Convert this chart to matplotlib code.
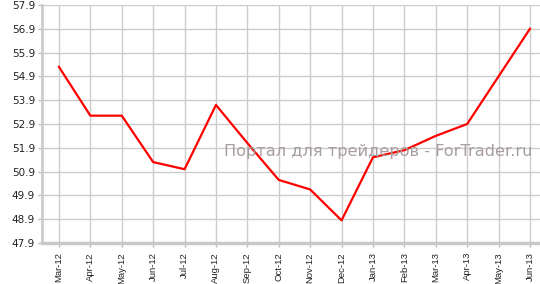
import matplotlib
matplotlib.use("Agg")
import matplotlib.pyplot as plt


MONTHS = [
    "Mar-12", "Apr-12", "May-12", "Jun-12", "Jul-12", "Aug-12", "Sep-12", "Oct-12",
    "Nov-12", "Dec-12", "Jan-13", "Feb-13", "Mar-13", "Apr-13", "May-13", "Jun-13",
]
VALUES = [
    55.3, 53.25, 53.25, 51.3, 51.0, 53.7, 52.1, 50.55,
    50.15, 48.85, 51.5, 51.8, 52.4, 52.9, 54.9, 56.9,
]
Y_TICKS = [47.9, 48.9, 49.9, 50.9, 51.9, 52.9, 53.9, 54.9, 55.9, 56.9, 57.9]
WATERMARK = "Портал для трейдеров - ForTrader.ru"


def main():
    fig = plt.figure(figsize=(5.4, 2.84), dpi=100)
    ax = fig.add_axes([42 / 540, 41 / 284, 498 / 540, 238 / 284])

    x = list(range(len(MONTHS)))
    ax.plot(x, VALUES, color="#ff0000", linewidth=1.6, zorder=3)

    ax.set_xlim(-0.54, 15.32)
    ax.set_ylim(Y_TICKS[0], Y_TICKS[-1])
    ax.set_xticks(x)
    ax.set_xticklabels(MONTHS, rotation=90, fontsize=6.8, color="#222222",
                       family="Liberation Sans")
    ax.set_yticks(Y_TICKS)
    ax.set_yticklabels([f"{v:.1f}" for v in Y_TICKS], fontsize=7.5, color="#222222")

    ax.grid(True, color="#cccccc", linewidth=1.0)
    ax.set_axisbelow(True)

    for side in ("top", "right"):
        ax.spines[side].set_visible(False)
    ax.spines["left"].set_color("#cccccc")
    ax.spines["left"].set_linewidth(2.0)
    ax.spines["bottom"].set_color("#c8c8c8")
    ax.spines["bottom"].set_linewidth(2.5)
    ax.tick_params(axis="both", length=3, width=1, color="#bbbbbb", pad=2)
    ax.tick_params(axis="x", pad=3.5)

    ax.text(0.366, 0.385, WATERMARK, transform=ax.transAxes, fontsize=11.6,
            color="#a89e9e", ha="left", va="center", zorder=4)

    fig.savefig("out.png", dpi=100)
    plt.close(fig)


if __name__ == "__main__":
    main()
